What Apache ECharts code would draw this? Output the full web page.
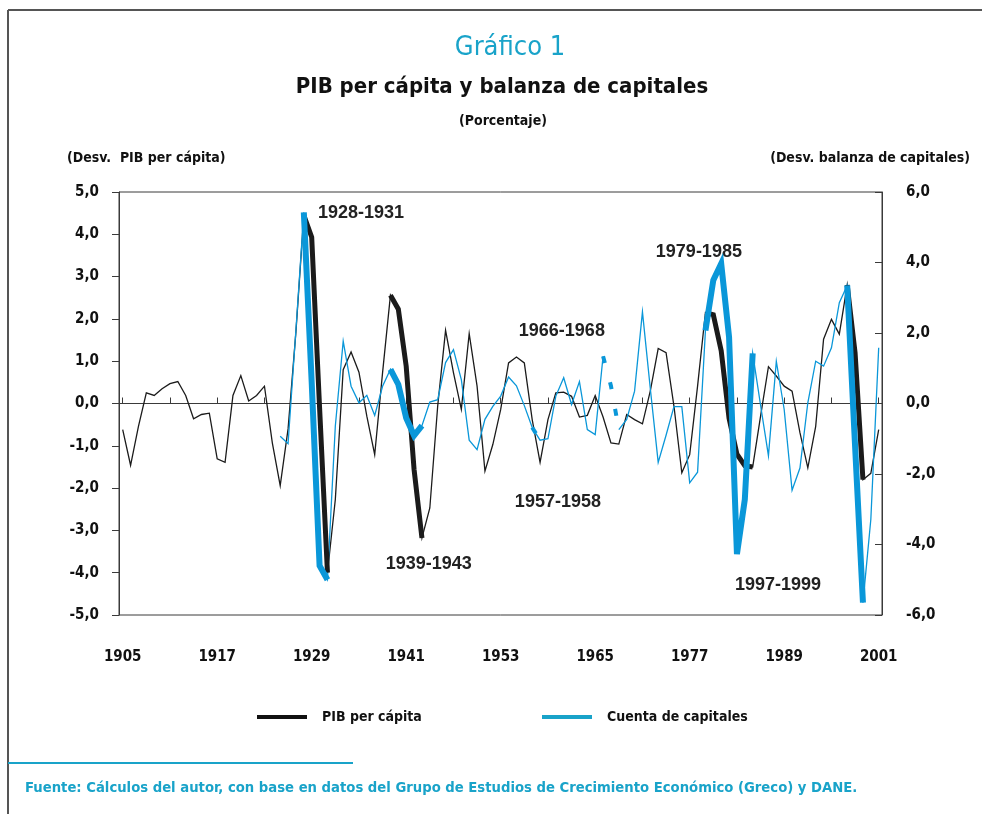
<!DOCTYPE html>
<html><head><meta charset="utf-8">
<script src="https://cdn.jsdelivr.net/npm/echarts@6/dist/echarts.min.js"></script>
<style>html,body{margin:0;padding:0;background:#fff}#c{width:982px;height:814px}</style>
</head><body><div id="c"></div>
<script>
// ---------------- DATA ----------------
const firstYear = 1905;
const lastYear = 2001;
// Desviación PIB per cápita (eje izquierdo), 1905-2001
const pib = [
  -0.62, -1.46, -0.54, 0.25, 0.19, 0.35, 0.47, 0.52, 0.19, -0.36,   // 1905-1914
  -0.26, -0.23, -1.31, -1.39, 0.19, 0.66, 0.06, 0.19, 0.41, -0.93,  // 1915-1924
  -1.94, -0.60, 1.70, 4.45, 3.93, -0.10, -4.00, -2.27, 0.80, 1.22,  // 1925-1934
  0.74, -0.30, -1.21, 0.73, 2.56, 2.23, 0.88, -1.56, -3.18, -2.47,  // 1935-1944
  -0.06, 1.73, 0.73, -0.14, 1.65, 0.41, -1.60, -0.97, -0.14, 0.96,  // 1945-1954
  1.10, 0.96, -0.38, -1.39, -0.38, 0.25, 0.27, 0.17, -0.32, -0.28,  // 1955-1964
  0.19, -0.32, -0.93, -0.96, -0.26, -0.38, -0.48, 0.30, 1.30, 1.20, // 1965-1974
  -0.06, -1.64, -1.21, 0.41, 2.15, 2.10, 1.25, -0.35, -1.20, -1.47, // 1975-1984
  -1.50, -0.30, 0.87, 0.65, 0.41, 0.29, -0.69, -1.52, -0.54, 1.52,  // 1985-1994
  1.99, 1.64, 2.80, 1.20, -1.80, -1.65, -0.62                       // 1995-2001
];
// Desviación balanza (cuenta) de capitales (eje derecho), 1905-2001
const cuenta = [
  null, null, null, null, null, null, null, null, null, null,       // 1905-1914
  null, null, null, null, null, null, null, null, null, null,       // 1915-1924
  -0.93, -1.14, 2.10, 5.42, 0.60, -4.60, -5.00, -0.64, 1.77, 0.49,  // 1925-1934
  0.02, 0.23, -0.34, 0.49, 0.97, 0.54, -0.41, -0.91, -0.63, 0.04,   // 1935-1944
  0.11, 1.16, 1.53, 0.68, -1.04, -1.31, -0.45, -0.08, 0.21, 0.75,   // 1945-1954
  0.50, -0.06, -0.68, -1.04, -1.00, 0.21, 0.73, -0.03, 0.62, -0.74, // 1955-1964
  -0.88, 1.34, 0.50, -0.74, -0.45, 0.35, 2.60, 0.42, -1.67, -0.90,  // 1965-1974
  -0.09, -0.09, -2.25, -1.95, 2.07, 3.50, 3.97, 1.88, -4.27, -2.72, // 1975-1984
  1.42, -0.05, -1.48, 1.20, -0.17, -2.46, -1.83, 0.02, 1.20, 1.06,  // 1985-1994
  1.58, 2.86, 3.35, -1.20, -5.65, -3.29, 1.58                       // 1995-2001
];
const highlightPeriods = [[1928, 1931], [1939, 1943], [1979, 1985], [1997, 1999]];
const dashedPeriods = [[1957, 1958], [1966, 1968]];
const thinGapYears = [1967];
const xLabelYears = [1905, 1917, 1929, 1941, 1953, 1965, 1977, 1989, 2001];
const xTickYears = [1905, 1911, 1917, 1923, 1929, 1935, 1941, 1947, 1953, 1959, 1965, 1971, 1977, 1983, 1989, 1995, 2001];
const annotations = [
  { text: '1928-1931', year: 1929.8, value: 4.50 },
  { text: '1939-1943', year: 1938.4, value: -3.79 },
  { text: '1966-1968', year: 1955.3, value: 1.71 },
  { text: '1957-1958', year: 1954.8, value: -2.32 },
  { text: '1979-1985', year: 1972.7, value: 3.58 },
  { text: '1997-1999', year: 1982.75, value: -4.29 }
];
const seriesNames = ['PIB per cápita', 'Cuenta de capitales'];
const titleText = 'PIB per cápita y balanza de capitales';
const chartNumber = 'Gráfico 1';
const unitText = '(Porcentaje)';
const leftAxisName = '(Desv.  PIB per cápita)';
const rightAxisName = '(Desv. balanza de capitales)';
const sourceText = 'Fuente: Cálculos del autor, con base en datos del Grupo de Estudios de Crecimiento Económico (Greco) y DANE.';

// ---------------- BUILD ----------------
const years = [];
for (let y = firstYear; y <= lastYear; y++) years.push(y);
const inPeriods = (y, ps) => ps.some(p => y >= p[0] && y <= p[1]);
const pairs = (vals, keep) => years.map((y, i) => [y, keep(y) ? vals[i] : null]);

const BLACK = '#1b1b1b';
const BLUE = '#0a97d9';
const CYAN = '#19a3c9';
const COND = "'Liberation Sans Narrow','Arial Narrow','DejaVu Sans Condensed','Liberation Sans',sans-serif";
const BOLDF = "'Liberation Sans','Arial',sans-serif";

const chart = echarts.init(document.getElementById('c'), null, { renderer: 'canvas' });
const fmt = v => v.toFixed(1).replace('.', ',');

const option = {
  animation: false,
  backgroundColor: '#ffffff',
  grid: { left: 119, right: 100, top: 192, bottom: 199, show: true, borderColor: '#3a3a3a', borderWidth: 1, containLabel: false },
  xAxis: [
    {
      type: 'value', min: 1904.53, max: 2001.42, position: 'bottom',
      axisLine: { show: false, onZero: false },
      axisTick: { show: false },
      splitLine: { show: false },
      axisLabel: { customValues: xLabelYears, formatter: v => String(Math.round(v)), margin: 35, fontFamily: COND, fontWeight: 'bold', fontSize: 15, color: '#111' }
    },
    {
      type: 'value', min: 1904.53, max: 2001.42, position: 'bottom',
      axisLine: { show: true, onZero: true, onZeroAxisIndex: 0, lineStyle: { color: '#3a3a3a', width: 1 } },
      axisTick: { show: true, inside: true, length: 6, customValues: xTickYears, lineStyle: { color: '#3a3a3a' } },
      axisLabel: { show: false },
      splitLine: { show: false }
    }
  ],
  yAxis: [
    {
      type: 'value', min: -5, max: 5, interval: 1, position: 'left',
      axisLine: { show: true, lineStyle: { color: '#3a3a3a' } },
      axisTick: { show: true, inside: false, length: 7, lineStyle: { color: '#3a3a3a' } },
      splitLine: { show: false },
      axisLabel: { formatter: fmt, margin: 20, fontFamily: COND, fontWeight: 'bold', fontSize: 15, color: '#111' }
    },
    {
      type: 'value', min: -6, max: 6, interval: 2, position: 'right',
      axisLine: { show: true, lineStyle: { color: '#3a3a3a' } },
      axisTick: { show: true, inside: true, length: 7, lineStyle: { color: '#3a3a3a' } },
      splitLine: { show: false },
      axisLabel: { formatter: fmt, margin: 24, fontFamily: COND, fontWeight: 'bold', fontSize: 15, color: '#111' }
    }
  ],
  legend: [
    {
      left: 252, top: 705, icon: 'rect', itemWidth: 50, itemHeight: 4, selectedMode: false,
      data: [{ name: seriesNames[0], itemStyle: { color: '#111' } }],
      textStyle: { fontFamily: COND, fontWeight: 'bold', fontSize: 14, color: '#111', padding: [0, 0, 0, 10] }
    },
    {
      left: 537, top: 705, icon: 'rect', itemWidth: 50, itemHeight: 4, selectedMode: false,
      data: [{ name: seriesNames[1], itemStyle: { color: CYAN } }],
      textStyle: { fontFamily: COND, fontWeight: 'bold', fontSize: 14, color: '#111', padding: [0, 0, 0, 10] }
    }
  ],
  series: [
    {
      name: seriesNames[0], type: 'line', xAxisIndex: 0, yAxisIndex: 0, z: 2,
      data: pairs(pib, () => true), showSymbol: false, symbol: 'none', silent: true,
      color: BLACK, lineStyle: { color: BLACK, width: 1.3, join: 'miter' }
    },
    {
      name: seriesNames[1], type: 'line', xAxisIndex: 0, yAxisIndex: 1, z: 3,
      data: pairs(cuenta, y => !thinGapYears.includes(y)), showSymbol: false, symbol: 'none', silent: true,
      color: CYAN, lineStyle: { color: BLUE, width: 1.3, join: 'miter' }
    },
    {
      name: seriesNames[0], type: 'line', xAxisIndex: 0, yAxisIndex: 0, z: 4,
      data: pairs(pib, y => inPeriods(y, highlightPeriods)), showSymbol: false, symbol: 'none', silent: true,
      color: BLACK, lineStyle: { color: BLACK, width: 5, join: 'miter', miterLimit: 4 }
    },
    {
      name: seriesNames[1], type: 'line', xAxisIndex: 0, yAxisIndex: 1, z: 5,
      data: pairs(cuenta, y => inPeriods(y, highlightPeriods)), showSymbol: false, symbol: 'none', silent: true,
      color: CYAN, lineStyle: { color: BLUE, width: 6, join: 'miter', miterLimit: 4 }
    },
    {
      name: seriesNames[1], type: 'line', xAxisIndex: 0, yAxisIndex: 1, z: 5,
      data: pairs(cuenta, y => inPeriods(y, dashedPeriods)), showSymbol: false, symbol: 'none', silent: true,
      color: CYAN, lineStyle: { color: BLUE, width: 4, type: [7, 20] }
    }
  ]
};
chart.setOption(option);

const staticGraphics = [
  { type: 'line', shape: { x1: 8, y1: 10, x2: 982, y2: 10 }, style: { stroke: '#555', lineWidth: 2 }, silent: true },
  { type: 'line', shape: { x1: 8, y1: 10, x2: 8, y2: 814 }, style: { stroke: '#555', lineWidth: 2 }, silent: true },
  { type: 'line', shape: { x1: 8, y1: 763, x2: 353, y2: 763 }, style: { stroke: CYAN, lineWidth: 2 }, silent: true },
  { type: 'text', x: 510, y: 48, style: { text: chartNumber, font: "normal 27px " + COND, fill: CYAN, textAlign: 'center', textVerticalAlign: 'middle' } },
  { type: 'text', x: 502, y: 87, style: { text: titleText, font: "bold 22px " + COND, fill: '#111', textAlign: 'center', textVerticalAlign: 'middle' } },
  { type: 'text', x: 503, y: 121, style: { text: unitText, font: "bold 14px " + COND, fill: '#111', textAlign: 'center', textVerticalAlign: 'middle' } },
  { type: 'text', x: 67, y: 158, style: { text: leftAxisName, font: "bold 14px " + COND, fill: '#111', textAlign: 'left', textVerticalAlign: 'middle' } },
  { type: 'text', x: 970, y: 158, style: { text: rightAxisName, font: "bold 14px " + COND, fill: '#111', textAlign: 'right', textVerticalAlign: 'middle' } },
  { type: 'text', x: 25, y: 788, style: { text: sourceText, font: "bold 14.7px " + COND, fill: CYAN, textAlign: 'left', textVerticalAlign: 'middle' } }
];
const annotationGraphics = annotations.map(a => {
  const p = chart.convertToPixel({ xAxisIndex: 0, yAxisIndex: 0 }, [a.year, a.value]);
  return { type: 'text', x: p[0], y: p[1], style: { text: a.text, font: "bold 18px " + BOLDF, fill: '#222', textAlign: 'left', textVerticalAlign: 'middle' } };
});
chart.setOption({ graphic: { elements: staticGraphics.concat(annotationGraphics) } });
</script>
</body></html>
